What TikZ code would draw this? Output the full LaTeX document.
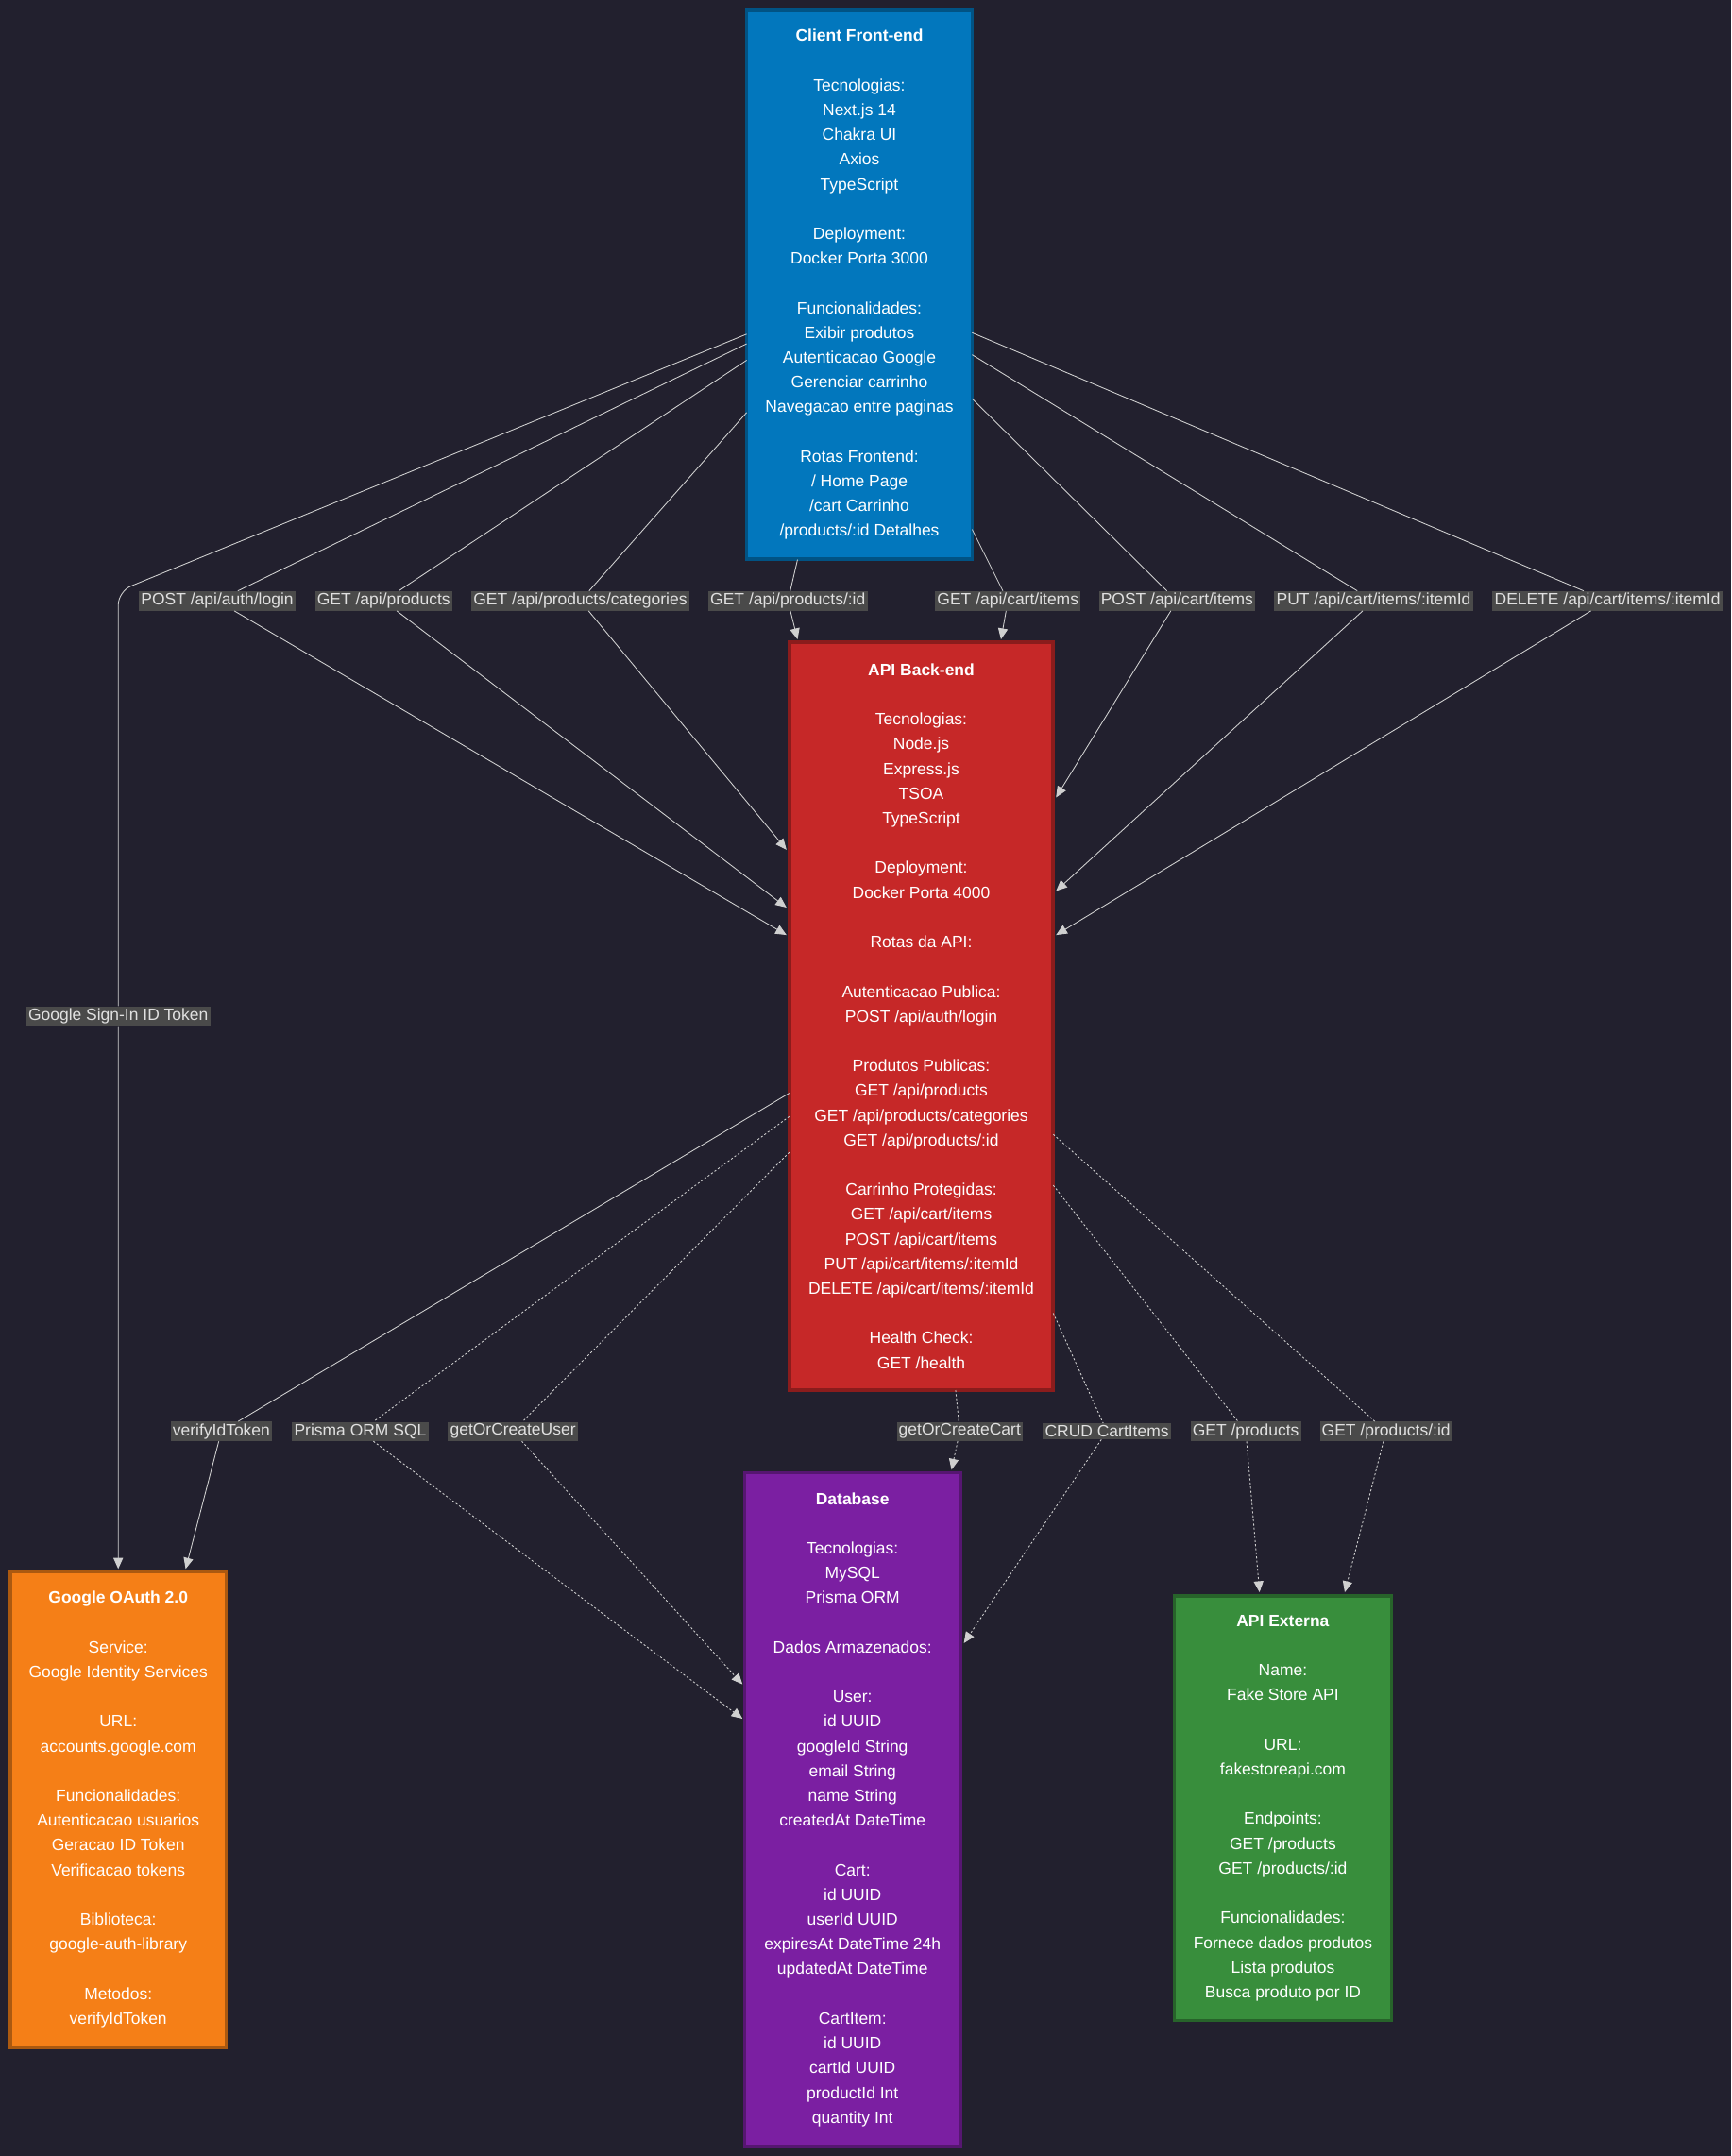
\documentclass[tikz,border=0pt]{standalone}
\usepackage{fontspec}
\setmainfont{Liberation Sans}
\usetikzlibrary{arrows.meta}
\definecolor{bgdark}{HTML}{22202E}
\definecolor{clientblue}{HTML}{0277BD}
\definecolor{apired}{HTML}{C62828}
\definecolor{oauthorange}{HTML}{F57F17}
\definecolor{dbpurple}{HTML}{7B1FA2}
\definecolor{extgreen}{HTML}{388E3C}
\definecolor{lblgray}{HTML}{4A4A4A}
\definecolor{edgegray}{HTML}{D0D0D0}

\tikzset{
  box/.style={draw=#1!70!black, line width=2.5pt, fill=#1, text=white, align=center,
    font=\fontsize{12}{18}\selectfont, inner sep=0pt},
  lbl/.style={fill=lblgray, text=white!88!black, inner sep=1.5pt,
    font=\fontsize{12}{14}\selectfont},
  edge/.style={draw=edgegray, line width=0.6pt, -{Triangle[length=8pt,width=7pt]}},
  dedge/.style={edge, dash pattern=on 1.5pt off 1.5pt}
}

\begin{document}
\begin{tikzpicture}[x=1pt,y=-1pt]
  \fill[bgdark] (0,0) rectangle (1259,1568);
  \useasboundingbox (0,0) rectangle (1259,1568);

  % boxes
  \node[box=clientblue, minimum width=164pt, minimum height=399pt] (client) at (625,207)
    {\textbf{Client Front-end}\\ ~\\ Tecnologias:\\ Next.js 14\\ Chakra UI\\ Axios\\ TypeScript\\ ~\\
     Deployment:\\ Docker Porta 3000\\ ~\\ Funcionalidades:\\ Exibir produtos\\ Autenticacao Google\\
     Gerenciar carrinho\\ Navegacao entre paginas\\ ~\\ Rotas Frontend:\\ / Home Page\\ /cart Carrinho\\
     /products/:id Detalhes};
  \node[box=apired, minimum width=192pt, minimum height=544pt] (api) at (670,739)
    {\textbf{API Back-end}\\ ~\\ Tecnologias:\\ Node.js\\ Express.js\\ TSOA\\ TypeScript\\ ~\\
     Deployment:\\ Docker Porta 4000\\ ~\\ Rotas da API:\\ ~\\ Autenticacao Publica:\\ POST /api/auth/login\\ ~\\
     Produtos Publicas:\\ GET /api/products\\ GET /api/products/categories\\ GET /api/products/:id\\ ~\\
     Carrinho Protegidas:\\ GET /api/cart/items\\ POST /api/cart/items\\ PUT /api/cart/items/:itemId\\
     DELETE /api/cart/items/:itemId\\ ~\\ Health Check:\\ GET /health};
  \node[box=oauthorange, minimum width=157pt, minimum height=346pt] (oauth) at (86,1316)
    {\textbf{Google OAuth 2.0}\\ ~\\ Service:\\ Google Identity Services\\ ~\\ URL:\\ accounts.google.com\\ ~\\
     Funcionalidades:\\ Autenticacao usuarios\\ Geracao ID Token\\ Verificacao tokens\\ ~\\
     Biblioteca:\\ google-auth-library\\ ~\\ Metodos:\\ verifyIdToken};
  \node[box=dbpurple, minimum width=157pt, minimum height=490pt] (db) at (620,1316)
    {\textbf{Database}\\ ~\\ Tecnologias:\\ MySQL\\ Prisma ORM\\ ~\\ Dados Armazenados:\\ ~\\
     User:\\ id UUID\\ googleId String\\ email String\\ name String\\ createdAt DateTime\\ ~\\
     Cart:\\ id UUID\\ userId UUID\\ expiresAt DateTime 24h\\ updatedAt DateTime\\ ~\\
     CartItem:\\ id UUID\\ cartId UUID\\ productId Int\\ quantity Int};
  \node[box=extgreen, minimum width=158pt, minimum height=309pt] (ext) at (933,1315)
    {\textbf{API Externa}\\ ~\\ Name:\\ Fake Store API\\ ~\\ URL:\\ fakestoreapi.com\\ ~\\
     Endpoints:\\ GET /products\\ GET /products/:id\\ ~\\ Funcionalidades:\\ Fornece dados produtos\\
     Lista produtos\\ Busca produto por ID};

  % labels
  \node[lbl] (lLogin) at (158,437) {POST /api/auth/login};
  \node[lbl] (lProd) at (279,437) {GET /api/products};
  \node[lbl] (lCat) at (422,437) {GET /api/products/categories};
  \node[lbl] (lProdId) at (573,437) {GET /api/products/:id};
  \node[lbl] (lCartGet) at (733,437) {GET /api/cart/items};
  \node[lbl] (lCartPost) at (856,437) {POST /api/cart/items};
  \node[lbl] (lCartPut) at (999,437) {PUT /api/cart/items/:itemId};
  \node[lbl] (lCartDel) at (1169,437) {DELETE /api/cart/items/:itemId};
  \node[lbl] (lSignIn) at (86,739) {Google Sign-In ID Token};
  \node[lbl] (lVerify) at (161,1041) {verifyIdToken};
  \node[lbl] (lPrisma) at (262,1041) {Prisma ORM SQL};
  \node[lbl] (lUser) at (373,1041) {getOrCreateUser};
  \node[lbl] (lCart) at (698,1041) {getOrCreateCart};
  \node[lbl] (lCrud) at (805,1041) {CRUD CartItems};
  \node[lbl] (lExtProd) at (906,1041) {GET /products};
  \node[lbl] (lExtId) at (1008,1041) {GET /products/:id};

  % anchor points
  \coordinate (c0) at (543,243);
  \coordinate (bend) at (86,430);
  \coordinate (o0) at (86,1141);
  \coordinate (c1) at (543,250);   \coordinate (a1) at (572,680);
  \coordinate (c2) at (543,262);   \coordinate (a2) at (572,660);
  \coordinate (c3) at (543,300);   \coordinate (a3) at (572,618);
  \coordinate (c4) at (580,407);   \coordinate (a4) at (580,465);
  \coordinate (c5) at (707,385);   \coordinate (a5) at (728,465);
  \coordinate (c6) at (707,290);   \coordinate (a6) at (768,580);
  \coordinate (c7) at (707,258);   \coordinate (a7) at (768,648);
  \coordinate (c8) at (707,242);   \coordinate (a8) at (768,680);
  \coordinate (b1) at (574,795);   \coordinate (o1) at (135,1141);
  \coordinate (b2) at (574,812);   \coordinate (d2) at (540,1250);
  \coordinate (b3) at (574,838);   \coordinate (d3) at (540,1225);
  \coordinate (b4) at (695,1011);  \coordinate (d4) at (692,1069);
  \coordinate (b5) at (766,955);   \coordinate (d5) at (701,1195);
  \coordinate (b6) at (766,862);   \coordinate (e6) at (916,1158);
  \coordinate (b7) at (766,825);   \coordinate (e7) at (978,1158);

  % connectors
  \draw[edge, rounded corners=10pt] (c0) -- (bend) -- (lSignIn) -- (o0);
  \draw[edge] (c1) -- (lLogin) -- (a1);
  \draw[edge] (c2) -- (lProd) -- (a2);
  \draw[edge] (c3) -- (lCat) -- (a3);
  \draw[edge] (c4) -- (lProdId) -- (a4);
  \draw[edge] (c5) -- (lCartGet) -- (a5);
  \draw[edge] (c6) -- (lCartPost) -- (a6);
  \draw[edge] (c7) -- (lCartPut) -- (a7);
  \draw[edge] (c8) -- (lCartDel) -- (a8);
  \draw[edge] (b1) -- (lVerify) -- (o1);
  \draw[dedge] (b2) -- (lPrisma) -- (d2);
  \draw[dedge] (b3) -- (lUser) -- (d3);
  \draw[dedge] (b4) -- (lCart) -- (d4);
  \draw[dedge] (b5) -- (lCrud) -- (d5);
  \draw[dedge] (b6) -- (lExtProd) -- (e6);
  \draw[dedge] (b7) -- (lExtId) -- (e7);
\end{tikzpicture}
\end{document}
